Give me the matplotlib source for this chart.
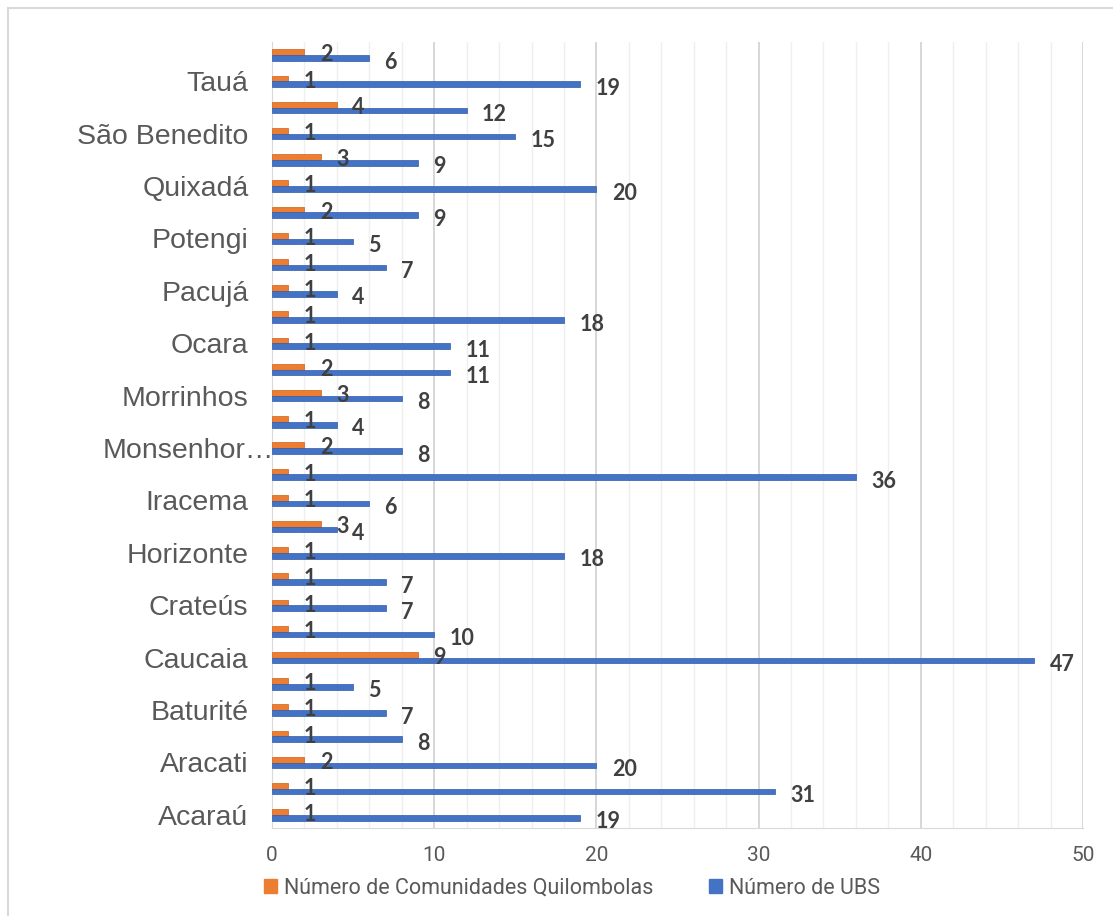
import numpy as np
import matplotlib.pyplot as plt
import matplotlib.transforms as mtransforms
from matplotlib.lines import Line2D
from matplotlib.patches import Rectangle

# municipios, de baixo para cima (Excel mostra so um rotulo a cada dois)
municipios = ['Acaraú', 'Aquiraz', 'Aracati', 'Araripe', 'Baturité', 'Canindé',
              'Caucaia', 'Coreaú', 'Crateús', 'Croatá', 'Horizonte', 'Independência',
              'Iracema', 'Itapipoca', 'Monsenhor Tabosa', 'Moraújo', 'Morrinhos',
              'Novo Oriente', 'Ocara', 'Pacajus', 'Pacujá', 'Porteiras', 'Potengi',
              'Quiterianópolis', 'Quixadá', 'Salitre', 'São Benedito', 'Tamboril',
              'Tauá', 'Tururu']
quilombolas = [1, 1, 2, 1, 1, 1, 9, 1, 1, 1, 1, 3, 1, 1, 2, 1, 3, 2, 1, 1,
               1, 1, 1, 2, 1, 3, 1, 4, 1, 2]
ubs = [19, 31, 20, 8, 7, 5, 47, 10, 7, 7, 18, 4, 6, 36, 8, 4, 8, 11, 11, 18,
       4, 7, 5, 9, 20, 9, 15, 12, 19, 6]

orange = '#ED7D31'
blue = '#4472C4'
txt = '#404040'
W, H = 1113, 916

fig = plt.figure(figsize=[W / 100, H / 100], dpi=100)
# borda da area do grafico (so topo e esquerda aparecem no recorte)
fig.lines.append(Line2D([8 / W, 1], [1 - 8 / H, 1 - 8 / H], transform=fig.transFigure,
                        color='#d9d9d9', lw=1.5))
fig.lines.append(Line2D([8 / W, 8 / W], [0, 1 - 8 / H], transform=fig.transFigure,
                        color='#d9d9d9', lw=1.5))
ax = fig.add_axes([272 / W, 1 - 828 / H, (1083 - 272) / W, (828 - 42) / H])

y = np.arange(len(municipios))
h = 0.22
ax.barh(y + h / 2, quilombolas, height=h, color=orange, ec='#d0601a', lw=0.5, zorder=3)
ax.barh(y - h / 2, ubs, height=h, color=blue, ec='#2f5aa8', lw=0.5, zorder=3)

for i in range(len(y)):
    ax.annotate(str(quilombolas[i]), (quilombolas[i], y[i] + h / 2), xytext=(11, -2),
                textcoords='offset points', ha='left', va='center', fontsize=15.5,
                fontweight='bold', color=txt, family='Lato', zorder=4)
    ax.annotate(str(ubs[i]), (ubs[i], y[i] - h / 2), xytext=(11, -3),
                textcoords='offset points', ha='left', va='center', fontsize=15.5,
                fontweight='bold', color=txt, family='Lato', zorder=4)

ax.set_xlim(0, 50)
ax.set_ylim(-0.5, len(y) - 0.5)
ax.set_xticks(np.arange(0, 51, 10))
ax.set_xticks(np.arange(0, 51, 2), minor=True)
ax.grid(axis='x', which='major', color='#d4d4d4', lw=1.3, zorder=0)
ax.grid(axis='x', which='minor', color='#efefef', lw=1.0, zorder=0)
ax.set_yticks(y[::2])
labels = [m if len(m) < 13 else 'Monsenhor…' for m in municipios[::2]]
ax.set_yticklabels(labels, fontsize=20.5, color='#595959', family='Liberation Sans')
ax.tick_params(axis='y', length=0, pad=17)
ax.tick_params(axis='x', which='both', length=0, pad=13, labelsize=15, labelcolor='#595959')
for t in ax.get_xticklabels():
    t.set_family('Roboto')
# o rotulo truncado fica encostado no eixo
for t in ax.get_yticklabels():
    if t.get_text().endswith('…'):
        t.set_transform(t.get_transform() + mtransforms.ScaledTranslation(26 / 100, 0, fig.dpi_scale_trans))
for s in ['top', 'right']:
    ax.spines[s].set_visible(False)
ax.spines['left'].set_color('#d9d9d9')
ax.spines['bottom'].set_color('#d9d9d9')

hq = Rectangle((0, 0), 1, 1, color=orange)
hu = Rectangle((0, 0), 1, 1, color=blue)
leg = fig.legend([hq, hu], ['Número de Comunidades Quilombolas', 'Número de UBS'],
                 loc='center', bbox_to_anchor=(572 / W, 1 - 888 / H), ncol=2,
                 frameon=False, handlelength=0.6, handleheight=0.6, handletextpad=0.3,
                 columnspacing=2.6, prop={'family': 'Roboto', 'size': 15.5})
for t in leg.get_texts():
    t.set_color('#595959')

plt.savefig('out.png', dpi=100)
